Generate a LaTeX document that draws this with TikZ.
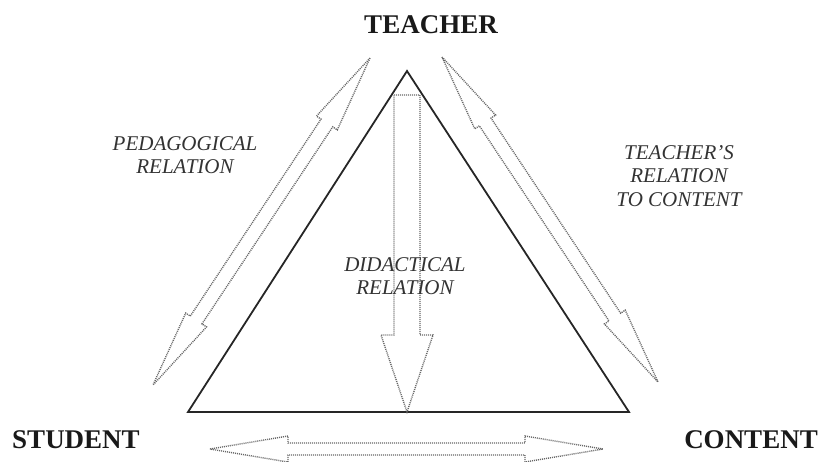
\documentclass[tikz,border=0pt]{standalone}
\usepackage{fontspec}
\setmainfont{Liberation Serif}
\usetikzlibrary{calc}
\tikzset{
  tri/.style={line width=1.8pt, draw=black!85, line join=miter},
  blk/.style={draw=black!60, line width=1.4pt, dash pattern=on 1pt off 1pt, line join=miter},
  corner/.style={font=\fontsize{27}{30}\selectfont\bfseries, text=black!90, inner sep=0pt},
  rel/.style={font=\fontsize{21}{23.5}\selectfont\itshape, text=black!80, align=center, inner sep=0pt},
}
\newcommand\dblarrow[5]{%
  \draw[blk] (#1) -- ($(#1)!#5!(#2)!#4!90:(#2)$) -- ($(#1)!#5!(#2)!#3!90:(#2)$)
    -- ($(#2)!#5!(#1)!#3!-90:(#1)$) -- ($(#2)!#5!(#1)!#4!-90:(#1)$) -- (#2)
    -- ($(#2)!#5!(#1)!#4!90:(#1)$) -- ($(#2)!#5!(#1)!#3!90:(#1)$)
    -- ($(#1)!#5!(#2)!#3!-90:(#2)$) -- ($(#1)!#5!(#2)!#4!-90:(#2)$) -- cycle;}
\begin{document}
\begin{tikzpicture}[x=1pt,y=-1pt]
\useasboundingbox (0,0) rectangle (818,461);
% triangle
\coordinate (T) at (407,71);
\coordinate (S) at (188,412);
\coordinate (C) at (629,412);
\draw[tri] (T) -- (S) -- (C) -- cycle;
% corner labels
\node[corner] (teacher) at (431,25) {TEACHER};
\node[corner] (student) at (76,440) {STUDENT};
\node[corner] (content) at (751,440) {CONTENT};
% relation labels
\node[rel] (ped) at (185,155) {PEDAGOGICAL\\RELATION};
\node[rel] (trc) at (679,176) {TEACHER’S\\RELATION\\TO CONTENT};
% arrows
\coordinate (pa) at (370,58);
\coordinate (pb) at (153,385);
\dblarrow{pa}{pb}{7pt}{12.5pt}{78pt}
\coordinate (ra) at (442,57);
\coordinate (rb) at (658,382);
\dblarrow{ra}{rb}{7pt}{12.5pt}{78pt}
\coordinate (ba) at (210,449);
\coordinate (bb) at (603,449);
\dblarrow{ba}{bb}{6pt}{13pt}{78pt}
% didactical arrow (single head)
\coordinate (da) at (407,95);
\coordinate (db) at (407,412);
\draw[blk] ($(da)+(-13,0)$) -- ($(da)+(13,0)$) -- ($(db)+(13,-77)$) -- ($(db)+(26,-77)$)
  -- (db) -- ($(db)+(-26,-77)$) -- ($(db)+(-13,-77)$) -- cycle;
\node[rel] (did) at (405,276) {DIDACTICAL\\RELATION};
\end{tikzpicture}
\end{document}
